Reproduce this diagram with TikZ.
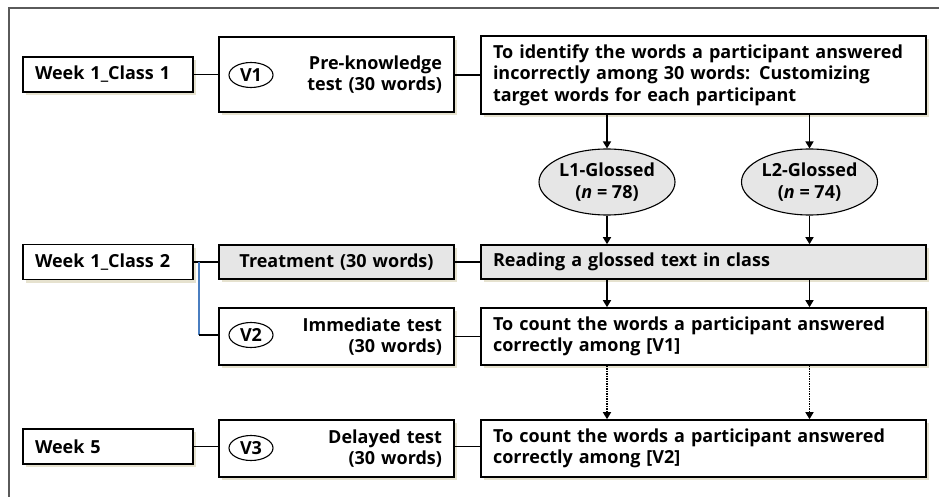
\documentclass[tikz,border=0pt]{standalone}
\usepackage{fontspec}
\setmainfont{Open Sans}
\usepackage{tikz}
\usetikzlibrary{arrows.meta, positioning, shapes.geometric, shadows, calc}
\definecolor{stdgray}{HTML}{E6E6E6}
\definecolor{stdframe}{HTML}{5A5A5A}
\definecolor{stdblue}{HTML}{4A7EC0}
\definecolor{stdshadow}{HTML}{E6E2CF}

\begin{document}
\begin{tikzpicture}[
   x=1pt, y=-1pt,
   font=\fontsize{18}{21.5}\selectfont\bfseries,
   shd/.style={drop shadow={shadow xshift=3pt, shadow yshift=-3pt, fill=stdshadow, opacity=1}},
   lbox/.style={rectangle, draw=black, line width=1.6pt, fill=white, shd,
                text width=146pt, inner xsep=12pt, align=left, minimum height=35pt},
   mbox/.style={rectangle, draw=black, line width=1.6pt, fill=white, shd,
                text width=211pt, inner xsep=12pt, align=right, minimum height=57pt},
   rbox/.style={rectangle, draw=black, line width=1.6pt, fill=white, shd,
                text width=421pt, inner xsep=12pt, align=left, minimum height=57pt},
   vtag/.style={ellipse, draw=black, line width=1.1pt, fill=white,
                minimum width=44pt, minimum height=25pt, inner sep=0pt},
   grp/.style={ellipse, draw=black, line width=1.1pt, fill=stdgray, align=center,
               minimum width=136pt, minimum height=66pt, inner sep=0pt},
   conn/.style={line width=1.6pt, black},
   arr/.style={-{Triangle[length=7pt, width=8pt]}, line width=1.5pt, black},
   darr/.style={arr, densely dotted}]
 \useasboundingbox (0,0) rectangle (939,497);
 \draw[stdframe, line width=2.2pt] (9,497) -- (9,8) -- (939,8);

 % time points
 \node[lbox] (wk1) at (108,74.5)  {Week 1\_Class 1};
 \node[lbox] (wk2) at (108,262)   {Week 1\_Class 2};
 \node[lbox] (wk5) at (108,446.5) {Week 5};

 % tests and treatment
 \node[mbox, minimum height=75pt] (v1box) at (336.5,74.5) {Pre-knowledge\\test (30 words)};
 \node[mbox, minimum height=34pt, fill=stdgray, align=center] (treat) at (336.5,262) {Treatment (30 words)};
 \node[mbox] (v2box) at (336.5,336.5) {Immediate test\\(30 words)};
 \node[mbox] (v3box) at (336.5,448.5) {Delayed test\\(30 words)};
 \node[vtag] (v1) at (251,75)  {V1};
 \node[vtag] (v2) at (251,335) {V2};
 \node[vtag] (v3) at (251,448) {V3};

 % right column
 \node[rbox, minimum height=78pt] (ident) at (703.5,75) {To identify the words a participant answered\\incorrectly among 30 words: Customizing\\target words for each participant};
 \node[grp] (l1) at (607,182) {L1-Glossed\\(\textit{n} = 78)};
 \node[grp] (l2) at (809.5,182) {L2-Glossed\\(\textit{n} = 74)};
 \node[rbox, minimum height=34pt, fill=stdgray] (read) at (703.5,262) {Reading a glossed text in class};
 \node[rbox] (cnt1) at (703.5,336.5) {To count the words a participant answered\\correctly among [V1]};
 \node[rbox] (cnt2) at (703.5,448.5) {To count the words a participant answered\\correctly among [V2]};

 \draw[conn] (wk1) -- (v1box.west |- wk1);
 \draw[conn] (v1box.east |- ident) -- (ident.west);
 \draw[conn] (wk2) -- (treat);
 \draw[conn] (treat) -- (read);
 \coordinate (brk) at ($(wk2.east)+(5,0)$);
 \draw[stdblue, line width=1.6pt] (brk) -- (brk |- v2);
 \draw[conn] (brk |- v2) -- (v2box.west |- v2);
 \draw[conn] (v2box.east |- cnt1) -- (cnt1.west);
 \draw[conn] (wk5) -- (v3box.west |- wk5);
 \draw[conn] (v3box.east |- wk5) -- (cnt2.west |- wk5);

 \draw[arr] (l1 |- ident.south) -- (l1.north);
 \draw[arr] (l2 |- ident.south) -- (l2.north);
 \draw[arr] (l1.south) -- (l1 |- read.north);
 \draw[arr] (l2.south) -- (l2 |- read.north);
 \draw[arr] (l1 |- read.south) -- (l1 |- cnt1.north);
 \draw[arr] (l2 |- read.south) -- (l2 |- cnt1.north);
 \draw[darr] (l1 |- cnt1.south) -- (l1 |- cnt2.north);
 \draw[darr] (l2 |- cnt1.south) -- (l2 |- cnt2.north);
\end{tikzpicture}
\end{document}
